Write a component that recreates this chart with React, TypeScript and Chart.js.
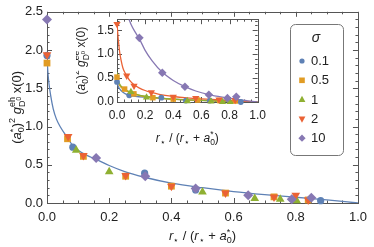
import React, { useEffect, useRef } from "react";
import { Chart, registerables } from "chart.js";
Chart.register(...registerables);

const FONT = "'Liberation Sans', Arial, sans-serif";
const TXT = "#222";
const FRAME = "#555";

const BLUE = "#5e81b5";
const ORANGE = "#e19c24";
const GREEN = "#8fb032";
const RED = "#eb6235";
const PURPLE = "#8778b3";

// legend
const sigmaLabels = ["0.1", "0.5", "1", "2", "10"];

// axis ticks
const mainXTicks = [0, 0.2, 0.4, 0.6, 0.8, 1.0];
const mainYTicks = [0, 0.5, 1.0, 1.5, 2.0, 2.5];
const insetXTicks = [0, 0.2, 0.4, 0.6, 0.8, 1.0];
const insetYTicks = [0, 0.5, 1.0, 1.5];

// ---- main plot (g^eh) ----
const mainBlueX = [0, 0.083, 0.314, 0.478, 0.88];
const mainBlueY = [1.93, 0.73, 0.39, 0.17, 0.03];
const mainOrangeX = [0, 0.066, 0.117, 0.253, 0.4, 0.574, 0.73, 0.84];
const mainOrangeY = [1.83, 0.84, 0.61, 0.35, 0.22, 0.13, 0.08, 0.04];
const mainGreenX = [0.094, 0.2, 0.5, 0.668, 0.75, 0.803];
const mainGreenY = [0.69, 0.41, 0.145, 0.06, 0.05, 0.03];
const mainRedX = [0, 0.068, 0.117, 0.253, 0.4, 0.574, 0.73, 0.8, 0.84];
const mainRedY = [1.94, 0.87, 0.62, 0.36, 0.22, 0.13, 0.08, 0.1, 0.04];
const mainPurpleX = [0, 0.158, 0.316, 0.478, 0.647, 0.787, 0.85];
const mainPurpleY = [2.4, 0.59, 0.35, 0.19, 0.1, 0.05, 0.07];
const mainFitX = [0, 0.003, 0.007, 0.012, 0.02, 0.03, 0.045, 0.063, 0.083, 0.1, 0.125, 0.158, 0.2, 0.25, 0.31, 0.4, 0.5, 0.6, 0.7, 0.8, 0.9, 1.0];
const mainFitY = [1.92, 1.7, 1.54, 1.4, 1.23, 1.1, 0.98, 0.87, 0.75, 0.69, 0.63, 0.57, 0.49, 0.41, 0.34, 0.26, 0.2, 0.15, 0.11, 0.075, 0.04, 0.0];

// ---- inset (g^ee) ----
const inBlueX = [0, 0.087, 0.315, 0.49, 0.66, 0.88];
const inBlueY = [0.42, 0.14, 0.09, 0.03, 0.03, 0.0];
const inOrangeX = [0, 0.054, 0.12, 0.255, 0.4, 0.574, 0.73, 0.84];
const inOrangeY = [0.52, 0.27, 0.17, 0.09, 0.06, 0.04, 0.03, 0.02];
const inGreenX = [0.099, 0.21, 0.5, 0.668, 0.75, 0.803];
const inGreenY = [0.21, 0.095, 0.02, 0.01, 0.0, 0.0];
const inRedX = [0, 0.069, 0.121, 0.244, 0.4, 0.56, 0.725, 0.84];
const inRedY = [1.63, 0.55, 0.34, 0.2, 0.11, 0.08, 0.05, 0.04];
const inPurpleX = [0.159, 0.322, 0.483, 0.653, 0.785, 0.848];
const inPurpleY = [1.34, 0.61, 0.32, 0.15, 0.08, 0.11];

const inBlueFitX = [0, 0.01, 0.02, 0.04, 0.06, 0.087, 0.13, 0.2, 0.315, 0.49, 0.7, 1.0];
const inBlueFitY = [0.42, 0.32, 0.27, 0.21, 0.17, 0.14, 0.12, 0.1, 0.075, 0.045, 0.025, 0];
const inOrangeFitX = [0, 0.01, 0.02, 0.035, 0.054, 0.08, 0.12, 0.18, 0.255, 0.35, 0.5, 0.7, 1.0];
const inOrangeFitY = [0.52, 0.4, 0.34, 0.29, 0.25, 0.21, 0.17, 0.12, 0.09, 0.065, 0.045, 0.025, 0];
const inGreenFitX = [0, 0.005, 0.01, 0.02, 0.035, 0.05, 0.07, 0.099, 0.15, 0.2, 0.3, 0.4, 0.5, 0.65, 0.8, 1.0];
const inGreenFitY = [0.62, 0.5, 0.44, 0.37, 0.31, 0.27, 0.24, 0.2, 0.15, 0.12, 0.085, 0.06, 0.045, 0.03, 0.015, 0];
const inRedFitX = [0, 0.005, 0.01, 0.02, 0.03, 0.042, 0.055, 0.069, 0.09, 0.121, 0.16, 0.2, 0.244, 0.3, 0.4, 0.5, 0.6, 0.73, 0.85, 1.0];
const inRedFitY = [1.63, 1.45, 1.28, 1.02, 0.86, 0.71, 0.62, 0.55, 0.45, 0.36, 0.29, 0.24, 0.2, 0.16, 0.115, 0.085, 0.065, 0.045, 0.025, 0];
const inPurpleFitX = [0.085, 0.1, 0.125, 0.159, 0.2, 0.25, 0.322, 0.4, 0.483, 0.56, 0.653, 0.75, 0.85, 0.93, 1.0];
const inPurpleFitY = [1.73, 1.62, 1.48, 1.32, 1.08, 0.86, 0.62, 0.45, 0.32, 0.23, 0.155, 0.1, 0.055, 0.025, 0];

const zip = (xs: number[], ys: number[]) => xs.map((x, i) => ({ x, y: ys[i] }));

type Shape = "circle" | "rect" | "triangle" | "triangleDown" | "diamond";
const shapes: Shape[] = ["circle", "rect", "triangle", "triangleDown", "diamond"];
const colors = [BLUE, ORANGE, GREEN, RED, PURPLE];

function pointDs(data: any[], color: string, shape: Shape, r: number, order: number) {
  const ps = shape === "triangleDown" ? "triangle" : shape === "diamond" ? "rectRot" : shape;
  return {
    data,
    showLine: false,
    pointStyle: ps,
    pointRotation: shape === "triangleDown" ? 180 : 0,
    pointRadius: r,
    pointBackgroundColor: color,
    pointBorderColor: color,
    pointBorderWidth: 0,
    order,
    clip: false as any,
  };
}
function lineDs(data: any[], color: string, order: number) {
  return {
    data,
    showLine: true,
    borderColor: color,
    borderWidth: 1.3,
    pointRadius: 0,
    cubicInterpolationMode: "monotone",
    order,
  };
}

function drawMarker(ctx: CanvasRenderingContext2D, shape: Shape, x: number, y: number, r: number, color: string) {
  ctx.beginPath();
  if (shape === "circle") ctx.arc(x, y, r, 0, Math.PI * 2);
  else if (shape === "rect") ctx.rect(x - r, y - r, 2 * r, 2 * r);
  else if (shape === "triangle") {
    ctx.moveTo(x, y - r * 1.1);
    ctx.lineTo(x + r, y + r * 0.7);
    ctx.lineTo(x - r, y + r * 0.7);
  } else if (shape === "triangleDown") {
    ctx.moveTo(x, y + r * 1.1);
    ctx.lineTo(x + r, y - r * 0.7);
    ctx.lineTo(x - r, y - r * 0.7);
  } else {
    ctx.moveTo(x, y - r);
    ctx.lineTo(x + r, y);
    ctx.lineTo(x, y + r);
    ctx.lineTo(x - r, y);
  }
  ctx.closePath();
  ctx.fillStyle = color;
  ctx.fill();
}

type Run = { t: string; s: number; dy?: number; it?: boolean; mark?: boolean; toMark?: boolean; sync?: boolean };

function drawRich(ctx: CanvasRenderingContext2D, runs: Run[], cx: number, cy: number, rotate: boolean, base: number) {
  let x = 0, markX = 0, maxX = 0;
  const placed: { r: Run; x: number }[] = [];
  for (const r of runs) {
    if (r.toMark) x = markX;
    else if (r.sync) x = maxX;
    if (r.mark) markX = x;
    ctx.font = `${r.it ? "italic " : ""}${r.s}px ${FONT}`;
    const w = ctx.measureText(r.t).width;
    placed.push({ r, x });
    x += w;
    maxX = Math.max(maxX, x);
  }
  ctx.save();
  ctx.translate(cx, cy);
  if (rotate) ctx.rotate(-Math.PI / 2);
  ctx.textAlign = "left";
  ctx.textBaseline = "alphabetic";
  ctx.fillStyle = TXT;
  for (const p of placed) {
    ctx.font = `${p.r.it ? "italic " : ""}${p.r.s}px ${FONT}`;
    ctx.fillText(p.r.t, p.x - maxX / 2, (p.r.dy || 0) + base * 0.36);
  }
  ctx.restore();
}

function xTitleRuns(b: number, s: number): Run[] {
  return [
    { t: "r", s: b, it: true },
    { t: "⋆", s, dy: 3 },
    { t: " / (", s: b },
    { t: "r", s: b, it: true },
    { t: "⋆", s, dy: 3 },
    { t: " + ", s: b },
    { t: "a", s: b, it: true },
    { t: "*", s, dy: -5, mark: true },
    { t: "0", s, dy: 3, toMark: true },
    { t: ")", s: b, sync: true },
  ];
}
function yTitleRuns(b: number, s: number, sup: string): Run[] {
  return [
    { t: "(", s: b },
    { t: "a", s: b, it: true },
    { t: "*", s, dy: -5, mark: true },
    { t: "0", s, dy: 3, toMark: true },
    { t: ")", s: b, sync: true },
    { t: "2", s, dy: -6 },
    { t: " ", s: b },
    { t: "g", s: b, it: true },
    { t: sup, s, dy: -6, mark: true },
    { t: "D", s, dy: 4, toMark: true },
    { t: "0", s: s * 0.72, dy: 0 },
    { t: " x(0)", s: b, sync: true },
  ];
}

function framePlugin(xMinor: number, xMajor: number, yMinor: number, yMajor: number) {
  return {
    id: "frameTicks",
    beforeDatasetsDraw(chart: any) {
      const { ctx, chartArea: a, scales } = chart;
      const xs = scales.x, ys = scales.y;
      ctx.save();
      ctx.strokeStyle = FRAME;
      ctx.lineWidth = 1;
      ctx.strokeRect(Math.round(a.left) + 0.5, Math.round(a.top) + 0.5, Math.round(a.right - a.left), Math.round(a.bottom - a.top));
      ctx.beginPath();
      const isMaj = (v: number, m: number) => Math.abs(v / m - Math.round(v / m)) < 1e-6;
      const nx = Math.round((xs.max - xs.min) / xMinor);
      for (let i = 0; i <= nx; i++) {
        const v = xs.min + i * xMinor;
        const len = isMaj(v, xMajor) ? 5 : 2.5;
        const px = Math.round(xs.getPixelForValue(v)) + 0.5;
        ctx.moveTo(px, a.bottom); ctx.lineTo(px, a.bottom - len);
        ctx.moveTo(px, a.top); ctx.lineTo(px, a.top + len);
      }
      const ny = Math.floor((ys.max - ys.min) / yMinor + 1e-6);
      for (let i = 0; i <= ny; i++) {
        const v = ys.min + i * yMinor;
        const len = isMaj(v, yMajor) ? 5 : 2.5;
        const py = Math.round(ys.getPixelForValue(v)) + 0.5;
        ctx.moveTo(a.left, py); ctx.lineTo(a.left + len, py);
        ctx.moveTo(a.right, py); ctx.lineTo(a.right - len, py);
      }
      ctx.stroke();
      ctx.restore();
    },
  };
}

function scaleOpts(min: number, max: number, ticks: number[], size: number, padding: number, fit: (s: any) => void) {
  return {
    type: "linear",
    min,
    max,
    grid: { display: false, drawTicks: false },
    border: { display: false },
    afterBuildTicks: (s: any) => { s.ticks = ticks.map((v) => ({ value: v })); },
    ticks: {
      padding,
      color: TXT,
      autoSkip: false,
      maxRotation: 0,
      font: { family: FONT, size },
      callback: (v: any) => Number(v).toFixed(1),
    },
    afterFit: fit,
  };
}

const mainTitles = {
  id: "mainTitles",
  afterDraw(chart: any) {
    const { ctx, chartArea: a } = chart;
    drawRich(ctx, xTitleRuns(13, 9), (a.left + a.right) / 2, 235, false, 13);
    drawRich(ctx, yTitleRuns(13, 9, "eh"), 16, (a.top + a.bottom) / 2, true, 13);
  },
};
const insetTitles = {
  id: "insetTitles",
  afterDraw(chart: any) {
    const { ctx, chartArea: a } = chart;
    drawRich(ctx, xTitleRuns(12, 8.5), (a.left + a.right) / 2, a.bottom + 36, false, 12);
    drawRich(ctx, yTitleRuns(12, 8.5, "ee"), a.left - 36, (a.top + a.bottom) / 2, true, 12);
  },
};
const legendPlugin = {
  id: "sigmaLegend",
  afterDraw(chart: any) {
    const ctx: CanvasRenderingContext2D = chart.ctx;
    ctx.save();
    ctx.beginPath();
    (ctx as any).roundRect(290.5, 24.5, 53, 131, 5);
    ctx.fillStyle = "#fff";
    ctx.fill();
    ctx.strokeStyle = "#777";
    ctx.lineWidth = 1;
    ctx.stroke();
    ctx.fillStyle = TXT;
    ctx.textAlign = "center";
    ctx.textBaseline = "middle";
    ctx.font = `italic 14px ${FONT}`;
    ctx.fillText("σ", 316, 38);
    const sizes = [2.6, 2.8, 3.4, 3.4, 3.6];
    sigmaLabels.forEach((lbl, i) => {
      const y = 61 + i * 19.3;
      drawMarker(ctx, shapes[i], 302, y, sizes[i], colors[i]);
      ctx.fillStyle = TXT;
      ctx.textAlign = "left";
      ctx.font = `13px ${FONT}`;
      ctx.fillText(lbl, 311, y + 0.5);
    });
    ctx.restore();
  },
};

export default function App() {
  const mainRef = useRef<HTMLCanvasElement>(null);
  const insetRef = useRef<HTMLCanvasElement>(null);

  useEffect(() => {
    const mainChart = new Chart(mainRef.current as HTMLCanvasElement, {
      type: "scatter",
      data: {
        datasets: [
          lineDs(zip(mainFitX, mainFitY), BLUE, 10),
          pointDs(zip(mainBlueX, mainBlueY), BLUE, "circle", 3.6, 5),
          pointDs(zip(mainOrangeX, mainOrangeY), ORANGE, "rect", 4.8, 4),
          pointDs(zip(mainGreenX, mainGreenY), GREEN, "triangle", 5, 3),
          pointDs(zip(mainRedX, mainRedY), RED, "triangleDown", 5, 2),
          pointDs(zip(mainPurpleX, mainPurpleY), PURPLE, "diamond", 5, 1),
        ] as any,
      },
      options: {
        animation: false,
        responsive: false,
        devicePixelRatio: 1,
        events: [],
        layout: { padding: { left: 0, right: 12, top: 8, bottom: 0 } },
        plugins: { legend: { display: false }, tooltip: { enabled: false } },
        scales: {
          x: scaleOpts(0, 1, mainXTicks, 13, 7, (s: any) => { s.height = 44; }),
          y: scaleOpts(0, 2.5, mainYTicks, 13, 4, (s: any) => { s.width = 47; }),
        } as any,
      },
      plugins: [framePlugin(0.05, 0.2, 0.1, 0.5), mainTitles, legendPlugin],
    });

    const insetChart = new Chart(insetRef.current as HTMLCanvasElement, {
      type: "scatter",
      data: {
        datasets: [
          lineDs(zip(inBlueFitX, inBlueFitY), BLUE, 20),
          lineDs(zip(inOrangeFitX, inOrangeFitY), ORANGE, 19),
          lineDs(zip(inGreenFitX, inGreenFitY), GREEN, 18),
          lineDs(zip(inRedFitX, inRedFitY), RED, 17),
          lineDs(zip(inPurpleFitX, inPurpleFitY), PURPLE, 16),
          pointDs(zip(inBlueX, inBlueY), BLUE, "circle", 2.9, 5),
          pointDs(zip(inOrangeX, inOrangeY), ORANGE, "rect", 3.9, 4),
          pointDs(zip(inGreenX, inGreenY), GREEN, "triangle", 4.2, 3),
          pointDs(zip(inRedX, inRedY), RED, "triangleDown", 4.2, 2),
          pointDs(zip(inPurpleX, inPurpleY), PURPLE, "diamond", 4.3, 1),
        ] as any,
      },
      options: {
        animation: false,
        responsive: false,
        devicePixelRatio: 1,
        events: [],
        layout: { padding: { left: 0, right: 6, top: 4, bottom: 0 } },
        plugins: { legend: { display: false }, tooltip: { enabled: false } },
        scales: {
          x: scaleOpts(0, 1, insetXTicks, 12, 6, (s: any) => { s.height = 45; }),
          y: scaleOpts(0, 1.73, insetYTicks, 12, 3, (s: any) => { s.width = 41; }),
        } as any,
      },
      plugins: [framePlugin(0.05, 0.2, 0.1, 0.5), insetTitles],
    });

    return () => {
      mainChart.destroy();
      insetChart.destroy();
    };
  }, []);

  return (
    <div style={{ position: "fixed", left: 0, top: 0, width: 374, height: 247, background: "#fff" }}>
      <canvas ref={mainRef} width={374} height={247} style={{ position: "absolute", left: 0, top: 0, width: 374, height: 247 }} />
      <canvas ref={insetRef} width={196} height={138} style={{ position: "absolute", left: 76, top: 9, width: 196, height: 138 }} />
    </div>
  );
}
